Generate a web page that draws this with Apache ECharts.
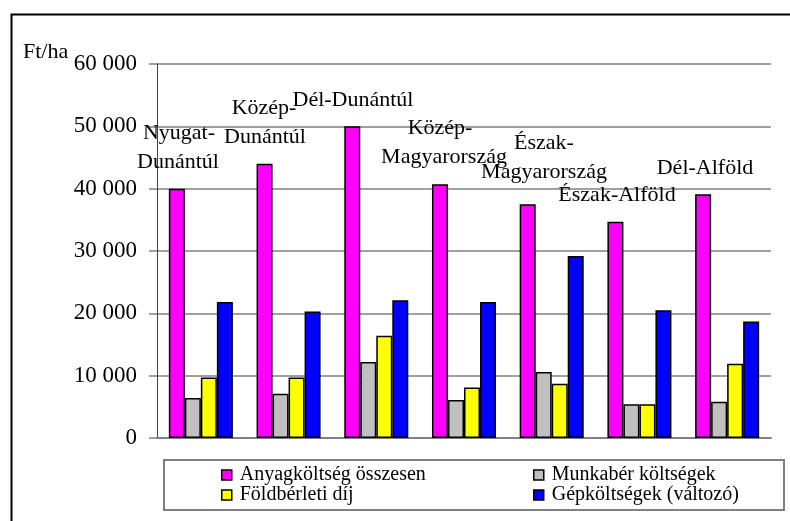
<!DOCTYPE html>
<html>
<head>
<meta charset="utf-8">
<script src="https://cdn.jsdelivr.net/npm/echarts@6/dist/echarts.min.js"></script>
<style>
  html, body { margin: 0; padding: 0; background: #fff; }
  #chart_con { width: 790px; height: 521px; }
</style>
</head>
<body>
<div id="chart_con"></div>
<script>
// regions (categories)
var regions = ['Nyugat-Dunántúl', 'Közép-Dunántúl', 'Dél-Dunántúl', 'Közép-Magyarország',
               'Észak-Magyarország', 'Észak-Alföld', 'Dél-Alföld'];
var seriesNames = ['Anyagköltség összesen', 'Munkabér költségek', 'Földbérleti díj', 'Gépköltségek (változó)'];
// Ft/ha values
var anyagKoltseg = [40000, 44000, 50000, 40700, 37500, 34700, 39100];
var munkaber = [6400, 7100, 12200, 6100, 10600, 5400, 5800];
var foldberlet = [9700, 9700, 16400, 8100, 8700, 5400, 11900];
var gepKoltseg = [21800, 20300, 22100, 21800, 29200, 20500, 18700];
var yTicks = [0, 10000, 20000, 30000, 40000, 50000, 60000];

var colors = ['#ff00ff', '#c0c0c0', '#ffff00', '#0000ff'];
var serif = 'Liberation Serif';

// category name boxes sitting above the bars
var regionLabels = [
    {text: 'Nyugat-', x: 179, y: 133},
    {text: 'Dunántúl', x: 178, y: 162},
    {text: 'Közép-', x: 264, y: 108},
    {text: 'Dunántúl', x: 265, y: 137},
    {text: 'Dél-Dunántúl', x: 353, y: 100},
    {text: 'Közép-', x: 440, y: 128},
    {text: 'Magyarország', x: 444, y: 157},
    {text: 'Észak-', x: 544, y: 143},
    {text: 'Magyarország', x: 544, y: 172},
    {text: 'Észak-Alföld', x: 617, y: 195},
    {text: 'Dél-Alföld', x: 705, y: 168}
];

function fmt(v){
    var s = String(v);
    if(s.length > 3){
        s = s.slice(0, s.length - 3) + ' ' + s.slice(s.length - 3);
    }
    return s;
}

var chart = echarts.init(document.getElementById('chart_con'));

var graphics = [
    {type: 'rect', left: 9, top: 12, shape: {width: 800, height: 530},
     style: {fill: null, stroke: '#000', lineWidth: 2}, z: 0, silent: true},
    {type: 'rect', left: 163, top: 459, shape: {width: 620, height: 50},
     style: {fill: '#fff', stroke: '#808080', lineWidth: 2}, z: 0, silent: true},
    {type: 'text', x: 23, y: 52, style: {text: 'Ft/ha', fontFamily: serif, fontSize: 22, fill: '#000',
     verticalAlign: 'middle'}}
];
regionLabels.forEach(function(l){
    graphics.push({
        type: 'text', x: l.x, y: l.y, z: 10,
        style: {text: l.text, fontFamily: serif, fontSize: 22, fill: '#000',
                align: 'center', verticalAlign: 'middle'}
    });
});

var dataList = [anyagKoltseg, munkaber, foldberlet, gepKoltseg];
var series = seriesNames.map(function(name, i){
    return {
        name: name,
        type: 'bar',
        data: dataList[i],
        barGap: '0%',
        barCategoryGap: '27%',
        itemStyle: {color: colors[i], borderColor: '#000', borderWidth: 1.5},
        emphasis: {disabled: true}
    };
});

var legendCommon = {
    orient: 'vertical',
    itemWidth: 10,
    itemHeight: 10,
    itemGap: 0,
    icon: 'rect',
    itemStyle: {borderColor: '#000', borderWidth: 1.5},
    textStyle: {fontFamily: serif, fontSize: 20, color: '#000', lineHeight: 19, padding: [0, 0, 0, 3]},
    padding: 0
};

var option = {
    animation: false,
    textStyle: {fontFamily: serif},
    grid: {left: 157, top: 64, right: 19, bottom: 83},
    graphic: graphics,
    legend: [
        Object.assign({left: 221, top: 465, data: [seriesNames[0], seriesNames[2]]}, legendCommon),
        Object.assign({left: 533, top: 465, data: [seriesNames[1], seriesNames[3]]}, legendCommon)
    ],
    xAxis: {
        type: 'category',
        data: regions,
        axisLabel: {show: false},
        axisTick: {show: false},
        axisLine: {lineStyle: {color: '#808080', width: 2}}
    },
    yAxis: {
        type: 'value',
        min: yTicks[0],
        max: yTicks[yTicks.length - 1],
        interval: 10000,
        axisLine: {show: true, lineStyle: {color: '#404040', width: 1}},
        axisTick: {show: true, length: 8, lineStyle: {color: '#808080', width: 1.5}},
        axisLabel: {
            margin: 20,
            fontFamily: serif,
            fontSize: 23,
            color: '#000',
            formatter: function(v){ return fmt(v); }
        },
        splitLine: {lineStyle: {color: '#808080', width: 1.5}}
    },
    series: series
};

chart.setOption(option);
window.addEventListener('resize', function () {
    chart.resize();
});
</script>
</body>
</html>
